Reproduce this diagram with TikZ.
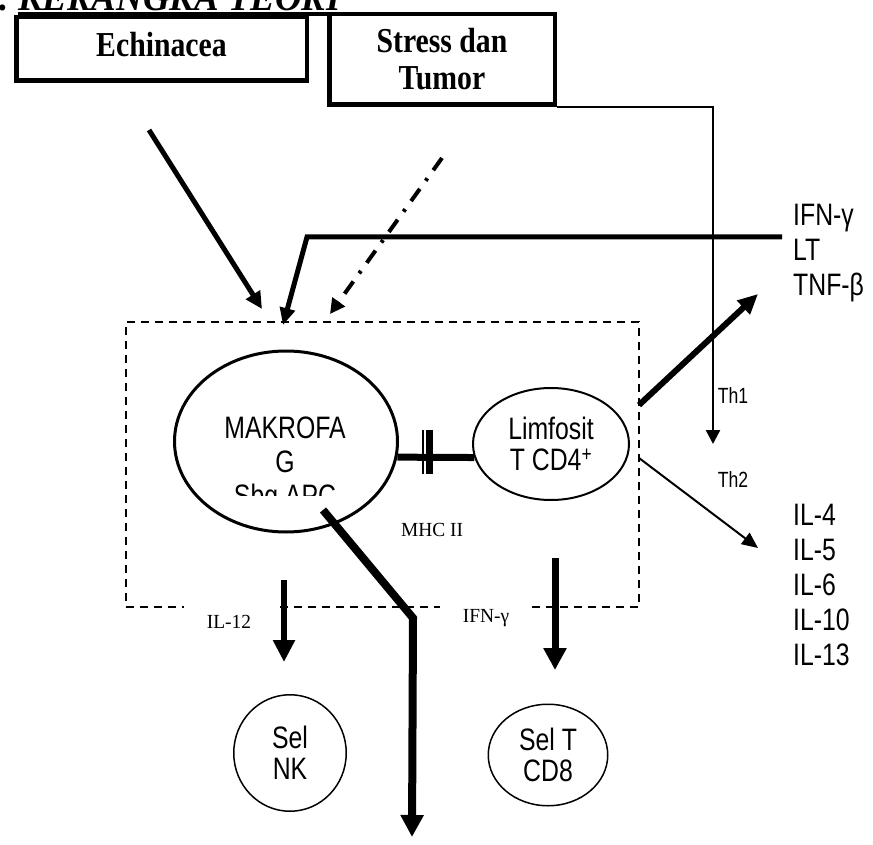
\documentclass[tikz,border=0pt]{standalone}
\usepackage{fontspec}
\usetikzlibrary{arrows.meta,shapes.geometric}
\newfontfamily\tnr{Liberation Serif}[FakeStretch=0.85]
\newfontfamily\tnrwide{Liberation Serif}[FakeStretch=0.97]
\newfontfamily\arn{Liberation Sans}[FakeStretch=0.8]
\begin{document}
\begin{tikzpicture}[x=1pt,y=-1pt,
  every node/.style={inner sep=0pt},
  srcbox/.style={draw, line width=4.5pt, font=\tnr\bfseries\fontsize{35}{37}\selectfont, align=center},
  cellA/.style={draw, ellipse, line width=3pt},
  cellB/.style={draw, ellipse, line width=2pt, font=\arn\fontsize{31}{31}\selectfont, align=center},
  cellC/.style={draw, ellipse, line width=1.5pt, font=\arn\fontsize{31}{31}\selectfont, align=center},
  cytotext/.style={font=\arn\fontsize{31}{35}\selectfont, align=left},
  smallsans/.style={font=\arn\fontsize{22}{24}\selectfont},
  smallserif/.style={font=\tnrwide\fontsize{20}{22}\selectfont},
  gapserif/.style={smallserif, fill=white, minimum width=90pt, minimum height=36pt},
  boxframe/.style={draw, line width=1.5pt, dash pattern=on 8pt off 6pt},
  dashdot/.style={dash pattern=on 15pt off 10pt on 3pt off 10pt}
]
\useasboundingbox (0,0) rectangle (873,845);
\fill[white] (0,0) rectangle (873,845);

% heading
\node[anchor=base west, font=\tnrwide\bfseries\itshape\fontsize{38}{40}\selectfont] (title) at (18,11) {KERANGKA TEORI};
\node[anchor=base west, font=\tnrwide\bfseries\itshape\fontsize{38}{40}\selectfont] (titledot) at (-1,11) {.};
\draw[line width=3.5pt] ([yshift=-3pt]title.base west) -- ([yshift=-3pt]title.base east);

% source boxes
\node[srcbox, minimum width=290.5pt, minimum height=63.5pt, text depth=10pt] (echi) at (161.5,49) {Echinacea};
\node[srcbox, minimum width=225.5pt, minimum height=90.5pt] (stress) at (442,59.5) {Stress dan\\Tumor};

% dashed frame around the antigen presentation
\node[boxframe, minimum width=513pt, minimum height=285pt] (frame) at (382.5,464.5) {};

% cells
\node[cellA, minimum width=223pt, minimum height=181pt] (mak) at (286,441.5) {};
\begin{scope}
  \clip (160,340) rectangle (410,495);
  \node[font=\arn\fontsize{31}{34}\selectfont, align=center, anchor=north] (maktext) at (285,417) {MAKROFA\\G\\Sbg APC};
\end{scope}
\node[cellB, minimum width=156pt, minimum height=112pt] (lim) at (551,444) {Limfosit\\T CD4\textsuperscript{+}};
\node[cellC, minimum width=112.5pt, minimum height=116.5pt] (nk) at (290,753) {Sel\\NK};
\node[cellC, minimum width=119.5pt, minimum height=101.5pt] (cd8) at (548,755) {Sel T\\CD8};

% MHC II contact
\draw[line width=7pt] (mak.-8.5) -- (lim.190.4);
\draw[line width=2pt] (423,430) -- (423,474);
\draw[line width=6.5pt] (429.5,430) -- (429.5,474);

% labels
\node[smallserif] (mhc) at (432,530) {MHC II};
\node[gapserif] (il12) at (229,622) {IL-12};
\node[gapserif, minimum width=92pt] (ifnlab) at (486,618) {IFN-γ};
\node[smallsans] (th1) at (733,396) {Th1};
\node[smallsans] (th2) at (733,480) {Th2};
\node[cytotext, anchor=north west] (th1cyt) at (793,204) {IFN-γ\\LT\\TNF-β};
\node[cytotext, anchor=north west] (th2cyt) at (793,504) {IL-4\\IL-5\\IL-6\\IL-10\\IL-13};

% connector end points
\coordinate (echiTail) at (149,130);
\coordinate (echiTip) at (262,309);
\coordinate (stressTail) at (442,158);
\coordinate (stressTip) at (330,314);
\coordinate (fbTail) at (782,237);
\coordinate (fbBend) at (307,237);
\coordinate (fbTip) at (283,325);
\coordinate (th1Tip) at (713,444);
\coordinate (th1Tail) at (639,405);
\coordinate (tnfTip) at (758,294);
\coordinate (th2Tail) at (639,458);
\coordinate (th2Tip) at (758,548);
\coordinate (il12Tail) at (284,580);
\coordinate (il12Tip) at (284,662);
\coordinate (cd8Tail) at (555,558);
\coordinate (cd8Tip) at (555,670);
\coordinate (apcTail) at (323,510);
\coordinate (apcBend) at (413,618);
\coordinate (apcTip) at (412,837);

% connectors
\draw[line width=5pt, -{Triangle[length=17pt,width=16pt]}] (echiTail) -- (echiTip);
\draw[line width=4pt, dashdot, -{Triangle[length=15pt,width=15pt]}] (stressTail) -- (stressTip);
\draw[line width=5pt, -{Triangle[length=17pt,width=15pt]}] (fbTail) -- (fbBend) -- (fbTip);
\draw[line width=2.5pt, -{Triangle[length=14pt,width=14pt]}] (stress.south east) -| (th1Tip);
\draw[line width=6pt, -{Triangle[length=20pt,width=18pt]}] (th1Tail) -- (tnfTip);
\draw[line width=2pt, -{Triangle[length=16pt,width=14pt]}] (th2Tail) -- (th2Tip);
\draw[line width=6pt, -{Triangle[length=22pt,width=21pt]}] (il12Tail) -- (il12Tip);
\draw[line width=7pt, -{Triangle[length=22pt,width=22pt]}] (cd8Tail) -- (cd8Tip);
\draw[line width=8pt, -{Triangle[length=22pt,width=22pt]}] (apcTail) -- (apcBend) -- (apcTip);
\end{tikzpicture}
\end{document}
